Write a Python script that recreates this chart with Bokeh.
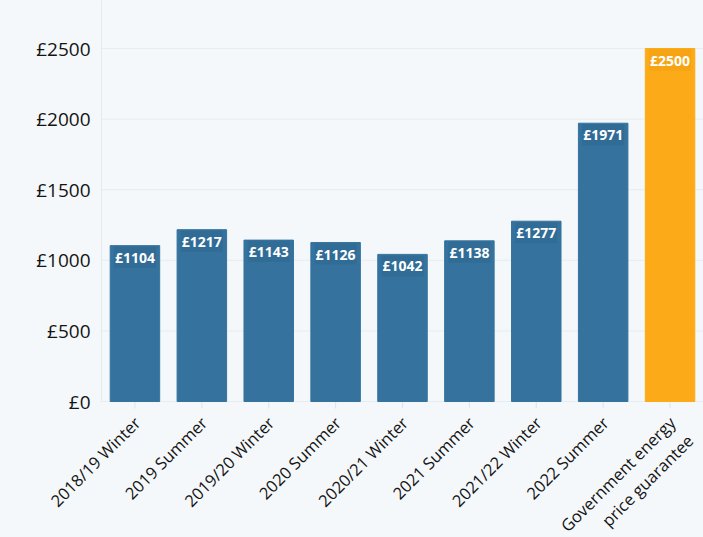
import math
from bokeh.plotting import figure
from bokeh.models import ColumnDataSource, Range1d
from bokeh.core.properties import value
from bokeh.embed import file_html
from bokeh.resources import INLINE

categories = ["2018/19 Winter", "2019 Summer", "2019/20 Winter", "2020 Summer",
              "2020/21 Winter", "2021 Summer", "2021/22 Winter", "2022 Summer",
              "Government energy\nprice guarantee"]
values = [1104, 1217, 1143, 1126, 1042, 1138, 1277, 1971, 2500]
bar_colors = ["#35739e"] * 8 + ["#fcaa17"]
box_colors = ["#2d6890"] * 8 + ["#f2a010"]
y_ticks = [0, 500, 1000, 1500, 2000, 2500]
y_tick_labels = ["£0", "£500", "£1000", "£1500", "£2000", "£2500"]

BG = "#f5f8fa"
FONT = "Open Sans"
Y_TOP = 2840
Y_BOTTOM = -963   # room below zero for the rotated category labels
X_LEFT = -2.01    # room left of the first category for the value labels
n = len(categories)
xpos = list(range(n))
edge_left, edge_right = -0.5, n - 0.5

src = ColumnDataSource(dict(
    x=xpos, cat=categories, val=values, color=bar_colors, box=box_colors,
    label=["£%d" % v for v in values], zero=[0] * n,
))
ysrc = ColumnDataSource(dict(y=y_ticks, label=y_tick_labels,
                             x0=[edge_left] * len(y_ticks), x1=[edge_right] * len(y_ticks)))

p = figure(x_range=Range1d(X_LEFT, edge_right), y_range=Range1d(Y_BOTTOM, Y_TOP),
           x_axis_type=None, y_axis_type=None,
           width=703, height=537, output_backend="svg", toolbar_location=None,
           min_border_left=0, min_border_right=0, min_border_top=0, min_border_bottom=0)
p.background_fill_color = BG
p.border_fill_color = BG
p.outline_line_color = None
p.grid.visible = False

# horizontal grid lines
p.segment(x0="x0", y0="y", x1="x1", y1="y", source=ysrc, line_color="#e6ecef", line_width=1)
# y axis line
p.segment(x0=[edge_left], y0=[0], x1=[edge_left], y1=[Y_TOP], line_color="#e4eaed", line_width=1)
# x ticks
p.scatter(x="x", y="zero", source=src, marker="dash", angle=math.pi / 2, size=14,
          line_color="#dde4e8", line_width=1)

p.vbar(x="x", top="val", width=0.74, color="color", source=src)
p.text(x="x", y="val", text="label", source=src,
       text_color="white", text_font=value(FONT), text_font_style="bold",
       text_font_size="14px", text_align="center", text_baseline="top",
       y_offset=1, background_fill_color="box", background_fill_alpha=0.6,
       padding=1)

# y tick labels
p.text(x="x0", y="y", text="label", source=ysrc, text_align="right", text_baseline="middle",
       x_offset=-11, text_font=value(FONT), text_font_size="19px", text_color="#141414")

# rotated category labels
p.text(x="x", y="zero", text="cat", source=src, angle=math.pi / 4,
       text_align="right", text_baseline="top", x_offset=-6, y_offset=10,
       text_font=value(FONT), text_font_size="16.5px", text_color="#141414",
       text_line_height=1.1)

html = file_html(p, INLINE)
html = html.replace("</head>", "<style>body{background:%s}</style></head>" % BG)
open("out.html", "w").write(html)
